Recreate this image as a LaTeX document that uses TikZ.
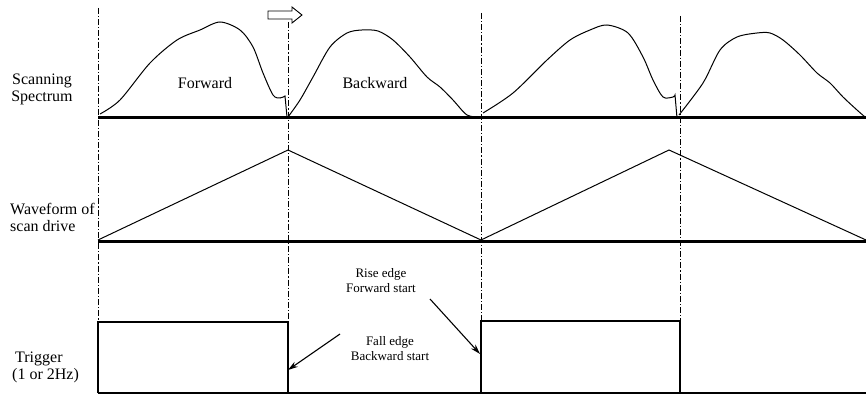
\documentclass[tikz,border=0pt]{standalone}
\usepackage{fontspec}
\setmainfont{Liberation Serif}
\usetikzlibrary{arrows.meta}
\begin{document}
\begin{tikzpicture}[x=1pt,y=-1pt,
  lbl/.style={font=\fontsize{16}{17}\selectfont, inner sep=0pt},
  smalllbl/.style={font=\fontsize{13}{15}\selectfont, inner sep=0pt, align=center},
  baseline thick/.style={line width=3pt},
  sig/.style={line width=1pt},
  guide/.style={line width=0.9pt, dash pattern=on 6pt off 2pt on 1.2pt off 2pt},
  callout/.style={line width=1.1pt, -{Stealth[length=10pt,width=6pt]}}]
\useasboundingbox (0,0) rectangle (866,395);
% guides
\draw[guide] (98,8) -- (98,393);
\draw[guide] (288,22) -- (288,393);
\draw[guide] (481,13) -- (481,393);
\draw[guide] (680,16) -- (680,393);
% hollow arrow
\draw[line width=0.9pt] (268,11) -- (292,11) -- (292,7) -- (302,15) -- (292,23) -- (292,19) -- (268,19) -- cycle;
% spectrum baseline
\draw[baseline thick] (98,118) -- (866,118);
% spectrum curves
\draw[sig] plot[smooth, tension=0.5] coordinates {(100,114) (120,100) (150,63) (177,40) (200,30) (220,22) (240,30) (253,47) (263,73) (273,95) (280,98) (285,96)} -- (287,117);
\draw[sig] plot[smooth, tension=0.5] coordinates {(288,117) (300,100) (313,77) (330,47) (347,33) (362,30) (378,31) (393,40) (410,57) (427,77) (440,87) (453,100) (467,115) (480,117)};
\draw[sig] plot[smooth, tension=0.5] coordinates {(483,113) (513,93) (547,60) (570,40) (590,30) (607,25) (628,33) (643,57) (653,80) (663,97) (673,97) (675,95)} -- (677,118);
\draw[sig] plot[smooth, tension=0.5] coordinates {(679,115) (703,83) (720,50) (737,37) (757,33) (770,33) (783,40) (800,55) (817,73) (830,83) (843,97) (857,110) (865,117)};
\node[lbl] (fwd) at (205,83) {Forward};
\node[lbl] (bwd) at (375,83) {Backward};
\node[lbl, align=center] (spec) at (42,89) {Scanning\\Spectrum};
% waveform
\draw[baseline thick] (98,241) -- (866,241);
\coordinate (w0) at (98,240);
\coordinate (w1) at (288,150);
\coordinate (w2) at (481,240);
\coordinate (w3) at (669,150);
\coordinate (w4) at (866,240);
\draw[sig] (w0) -- (w1) -- (w2) -- (w3) -- (w4);
\node[lbl, align=left, anchor=west] (wave) at (10,217) {Waveform of\\scan drive};
% trigger
\draw[line width=1.2pt] (98,393) -- (98,322) -- (288,322) -- (288,393);
\draw[line width=1.2pt] (481,393) -- (481,321) -- (680,321) -- (680,393);
\draw[line width=1.2pt] (98,393) -- (866,393);
\node[lbl, align=left, anchor=west] (trig) at (12,367) {\hspace{3pt}Trigger\\(1 or 2Hz)};
\node[smalllbl] (rise) at (381,281) {Rise edge\\Forward start};
\node[smalllbl] (fall) at (390,349) {Fall edge\\Backward start};
\coordinate (fs) at (340,334);
\coordinate (fe) at (288,370);
\coordinate (rs) at (430,299);
\coordinate (re) at (480,354);
\draw[callout] (fs) -- (fe);
\draw[callout] (rs) -- (re);
\end{tikzpicture}
\end{document}
